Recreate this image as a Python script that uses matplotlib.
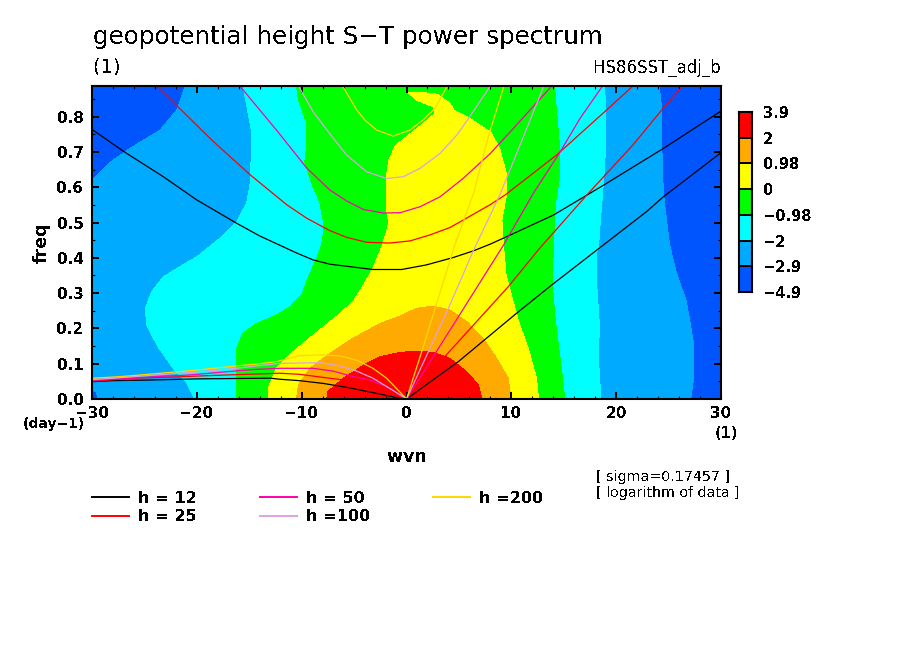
#!/usr/bin/env python3
"""S-T power spectrum of geopotential height with dispersion curves."""

import numpy as np
import matplotlib
matplotlib.use("Agg")
import matplotlib.pyplot as plt
from matplotlib.ticker import MultipleLocator

# band edges, as (wvn, freq)
lblue_topleft = [(-30, .62), (-28.0, .677), (-26.1, .715), (-23.5, .762), (-21.9, .819), (-21.1, .887)]
lblue_right = [(24.1, .887), (24.35, .819), (24.35, .715), (24.5, .583), (24.8, .507), (25.1, .436),
               (25.7, .361), (26.7, .276), (27.4, .153), (27.4, .06), (27.1, 0)]
lblue_corner = [(-29.4, 0), (-29.6, .02), (-30, .028)]

cyan_left = [(-15.6, .887), (-15.1, .81), (-14.8, .762), (-14.8, .697), (-14.9, .612), (-15.25, .555),
             (-16.2, .502), (-17.8, .455), (-18.6, .436), (-20, .403), (-21.6, .375), (-23.2, .346),
             (-24.3, .304), (-24.9, .257), (-24.8, .21), (-23.7, .148), (-22.25, .087), (-21, .049), (-20.2, 0)]
cyan_right = [(18.9, .887), (19.0, .81), (19, .715), (18.8, .62), (18.5, .507), (18.3, .427), (18.15, .417),
              (18.1, .343), (18.4, .21), (18.3, .115), (18.55, 0)]

green_left = [(-10.5, .887), (-10.3, .847), (-9.5, .781), (-9.5, .725), (-9.7, .672), (-9.05, .612),
              (-8.25, .555), (-7.85, .488), (-8.1, .436), (-8.7, .389), (-9.4, .342), (-10, .295),
              (-11.1, .261), (-12.4, .238), (-14.3, .214), (-15.6, .186), (-16.2, .144), (-16.2, 0)]
green_right = [(14.1, .887), (14.3, .819), (14.6, .715), (14.6, .63), (14.2, .554), (14, .427),
               (13.9, .323), (14.2, .219), (14.65, .115), (15.1, 0)]

yellow_left = [(.17, .868), (.97, .847), (2.55, .828), (2.7, .809), (1.6, .781), (-.6, .729), (-1.1, .715),
               (-1.7, .677), (-1.95, .62), (-1.95, .545), (-1.7, .498), (-2.05, .46), (-2.3, .436),
               (-3.2, .37), (-4.1, .323), (-5.1, .276), (-6.7, .233), (-8.9, .181), (-10.8, .134),
               (-12.4, .087), (-13.2, .03), (-13.2, 0)]
yellow_right = [(1.3, .869), (2.9, .864), (4.15, .838), (4.5, .819), (6.05, .795), (8, .757), (8.9, .71),
                (9.5, .64), (9.5, .573), (9.1, .507), (9.25, .436), (9.5, .351), (10, .295), (10.7, .219),
                (11.6, .144), (12.4, .059), (12.6, 0)]

orange_left = [(-.6, .235), (-2.5, .214), (-5.1, .172), (-7.3, .129), (-9.2, .087), (-10.3, .04), (-10.5, 0)]
orange_right = [(.97, .257), (2.55, .263), (4.15, .252), (5.75, .219), (7.3, .172), (8.6, .115), (9.7, .059), (9.97, 0)]

red_left = [(-.6, .132), (-2.5, .12), (-4.1, .096), (-6, .059), (-7.5, .021), (-7.6, 0)]
red_right = [(.97, .136), (2.55, .132), (4.15, .115), (5.75, .077), (6.85, .04), (7.2, 0)]

# dispersion curves: inertio-gravity, Kelvin and Rossby branch for each h
h12_gravity = [(-30, .764), (-26.9, .70), (-23.2, .63), (-20, .564), (-16.2, .498), (-14, .462), (-12.1, .436),
               (-10.5, .414), (-8.9, .394), (-7.3, .382), (-5.4, .375), (-3.2, .367), (-.46, .367), (1.9, .38),
               (4.47, .401), (6.4, .42), (8, .439), (9.55, .46), (14, .521), (18.8, .606), (24.5, .71), (30, .816)]
h12_kelvin = [(0, 0), (4.95, .106), (10.5, .243), (13.85, .323), (18.15, .422), (22.9, .531), (24.5, .573), (30, .698)]
h12_rossby = [(0, 0), (-.95, .004), (-3.2, .018), (-5.7, .033), (-7.9, .044), (-10.2, .052), (-12.1, .056),
              (-13, .059), (-20, .057), (-24, .054), (-28, .052), (-30, .049)]

h25_gravity = [(-23.8, .887), (-21.8, .828), (-18.4, .729), (-14.9, .635), (-11.4, .55), (-9.5, .512), (-7.3, .477),
               (-5.7, .458), (-3.8, .444), (-1.6, .442), (.33, .448), (2.24, .465), (4.15, .486), (5.4, .507),
               (8, .551), (9.4, .578), (14.3, .691), (18.9, .814), (21.6, .887)]
h25_kelvin = [(0, 0), (3.8, .125), (9.7, .318), (12.7, .427), (17.2, .578), (21.6, .72), (24.35, .819), (26.35, .887)]
h25_rossby = [(0, 0), (-1.26, .011), (-3.2, .032), (-6, .054), (-7.9, .061), (-10.2, .07), (-12.1, .073), (-14, .071),
              (-17.3, .068), (-21.6, .063), (-26, .059), (-30, .050)]

h50_gravity = [(-15.9, .887), (-12.4, .762), (-9.5, .654), (-7.3, .592), (-5.7, .561), (-4.1, .537), (-2.2, .527),
               (-.6, .528), (1.3, .545), (3.2, .573), (5.4, .625), (8, .696), (10.2, .767), (13.85, .887)]
h50_kelvin = [(0, 0), (4.95, .233), (9.25, .436), (12.1, .583), (14.65, .70), (16.55, .795), (18.7, .887)]
h50_rossby = [(0, 0), (-.3, .006), (-1.9, .035), (-3.5, .054), (-5.4, .066), (-7, .079), (-8.9, .087), (-12.1, .087),
              (-14.3, .084), (-16.5, .079), (-18.4, .074), (-20.7, .068), (-23.5, .064), (-27.5, .057), (-30, .053)]

h100_gravity = [(-10.3, .887), (-8.9, .814), (-7.3, .751), (-5.7, .691), (-3.8, .644), (-1.9, .625), (-.3, .63),
                (1.3, .654), (3.2, .696), (4.8, .748), (5.8, .79), (8.0, .887)]
h100_kelvin = [(0, 0), (4, .257), (6.4, .422), (8.9, .578), (11.15, .743), (13.1, .887)]
h100_rossby = [(0, 0), (-.3, .006), (-1.6, .03), (-3.2, .059), (-4.75, .079), (-6.35, .094), (-8.25, .103),
               (-10.2, .102), (-12.1, .101), (-14.3, .094), (-16.5, .086), (-18.4, .081), (-20.7, .075),
               (-23.5, .069), (-27.5, .060), (-30, .055)]

h200_gravity = [(-6.1, .887), (-4.75, .819), (-3.96, .79), (-2.85, .762), (-1.26, .745), (.33, .762), (1.55, .79),
                (2.7, .823), (3.9, .887)]
h200_kelvin = [(0, 0), (1.45, .134), (4.6, .436), (6.4, .583), (7.8, .743), (9.3, .887)]
h200_rossby = [(0, 0), (-.8, .025), (-1.9, .059), (-3.2, .087), (-4.75, .11), (-6.35, .122), (-8.25, .125),
               (-10.2, .123), (-12.4, .106), (-14.3, .099), (-16.5, .093), (-18.4, .087), (-20.7, .08),
               (-23.5, .073), (-25.4, .068), (-27.5, .063), (-30, .059)]

band_colors = ["#0055ff", "#00aaff", "#00ffff", "#00ff00", "#ffff00", "#ffaa00", "#ff0000"]
cbar_labels = ["-4.9", "-2.9", "-2", "-0.98", "0", "0.98", "2", "3.9"]
h_labels = ["h = 12", "h = 25", "h = 50", "h =100", "h =200"]
h_colors = ["#000000", "#ff0000", "#ff00aa", "#e0a0e0", "#ffd700"]

plt.rcParams["font.family"] = "DejaVu Sans"
plt.rcParams["text.antialiased"] = False
W, H = 904, 654


def fx(px):
    return px / W


def fy(py):
    return 1 - py / H


fig = plt.figure(figsize=(W / 100, H / 100), dpi=100)
ax = fig.add_axes([fx(92), fy(399), fx(721) - fx(92), fy(86) - fy(399)])
ax.set_facecolor(band_colors[0])

# paint from the lowest band upward
polygons = [
    lblue_topleft + lblue_right + lblue_corner,
    cyan_left[::-1] + cyan_right,
    green_left[::-1] + green_right,
    yellow_left[::-1] + yellow_right,
    orange_left[::-1] + orange_right,
    red_left[::-1] + red_right,
]
for poly, color in zip(polygons, band_colors[1:]):
    xs, ys = np.array(poly).T
    ax.fill(xs, ys, color=color, lw=0, antialiased=False, zorder=1)

curves = [
    (h12_gravity, h12_kelvin, h12_rossby),
    (h25_gravity, h25_kelvin, h25_rossby),
    (h50_gravity, h50_kelvin, h50_rossby),
    (h100_gravity, h100_kelvin, h100_rossby),
    (h200_gravity, h200_kelvin, h200_rossby),
]
for branches, color, label in zip(curves, h_colors, h_labels):
    for i, branch in enumerate(branches):
        xs, ys = np.array(branch).T
        ax.plot(xs, ys, color=color, lw=0.9, zorder=3, label=label if i == 0 else None)

ax.set_xlim(-30, 30)
ax.set_ylim(0, 0.887)
ax.xaxis.set_major_locator(MultipleLocator(10))
ax.xaxis.set_minor_locator(MultipleLocator(2))
ax.yaxis.set_major_locator(MultipleLocator(0.1))
ax.yaxis.set_minor_locator(MultipleLocator(0.05))
ax.tick_params(which="major", direction="in", top=True, right=True, length=5, width=1.4, labelsize=11)
ax.tick_params(which="minor", direction="in", top=True, right=True, length=2.5, width=0.8)
ax.tick_params(axis="x", which="major", pad=5)
ax.tick_params(axis="y", which="major", pad=6)
for label in ax.get_xticklabels() + ax.get_yticklabels():
    label.set_fontweight("bold")
for spine in ax.spines.values():
    spine.set_linewidth(1.5)
    spine.set_zorder(5)

# colour bar, one box per band
cax = fig.add_axes([fx(739), fy(292), fx(752) - fx(739), fy(112) - fy(292)])
cax.barh(np.arange(7) + 0.5, 1, height=1, color=band_colors, edgecolor="black", linewidth=1.4)
cax.set_xlim(0, 1)
cax.set_ylim(0, 7)
cax.set_xticks([])
cax.yaxis.tick_right()
cax.set_yticks(np.arange(8))
cax.set_yticklabels([s.replace("-", "\u2212") for s in cbar_labels], fontweight="bold", fontsize=10.5, ha="left")
cax.tick_params(axis="y", direction="in", length=0, pad=8)
for spine in cax.spines.values():
    spine.set_linewidth(1.5)

# text, placed in pixel terms like the source plot
fig.text(fx(93), fy(44), "geopotential height S\u2212T power spectrum", fontsize=17.7, va="baseline", ha="left")
fig.text(fx(93), fy(67), "(1)", fontsize=14, va="center", ha="left")
fig.text(fx(721), fy(68), "HS86SST_adj_b", fontsize=12, va="center", ha="right")
fig.text(fx(42), fy(243), "freq", fontsize=12.5, rotation=90, va="center", ha="center", fontweight="bold")
fig.text(fx(407), fy(457), "wvn", fontsize=12.5, va="center", ha="center", fontweight="bold")
fig.text(fx(85), fy(424), "(day\u22121)", fontsize=10, va="center", ha="right", fontweight="bold")
fig.text(fx(738), fy(433), "(1)", fontsize=10.5, va="center", ha="right", fontweight="bold")
fig.text(fx(596), fy(477), "[ sigma=0.17457 ]", fontsize=10.3, va="center", ha="left")
fig.text(fx(596), fy(493), "[ logarithm of data ]", fontsize=10.3, va="center", ha="left")

handles, labels = ax.get_legend_handles_labels()
leg = fig.legend(handles, labels, ncol=3, loc="upper left", bbox_to_anchor=(fx(92), fy(491)),
                 bbox_transform=fig.transFigure, frameon=False, borderpad=0, borderaxespad=0,
                 handlelength=2.3, handletextpad=0.56, columnspacing=3.9, labelspacing=0.21,
                 prop={"size": 11.6, "weight": "bold"})
for line in leg.get_lines():
    line.set_linewidth(1.4)

fig.savefig("out.png", dpi=100)
